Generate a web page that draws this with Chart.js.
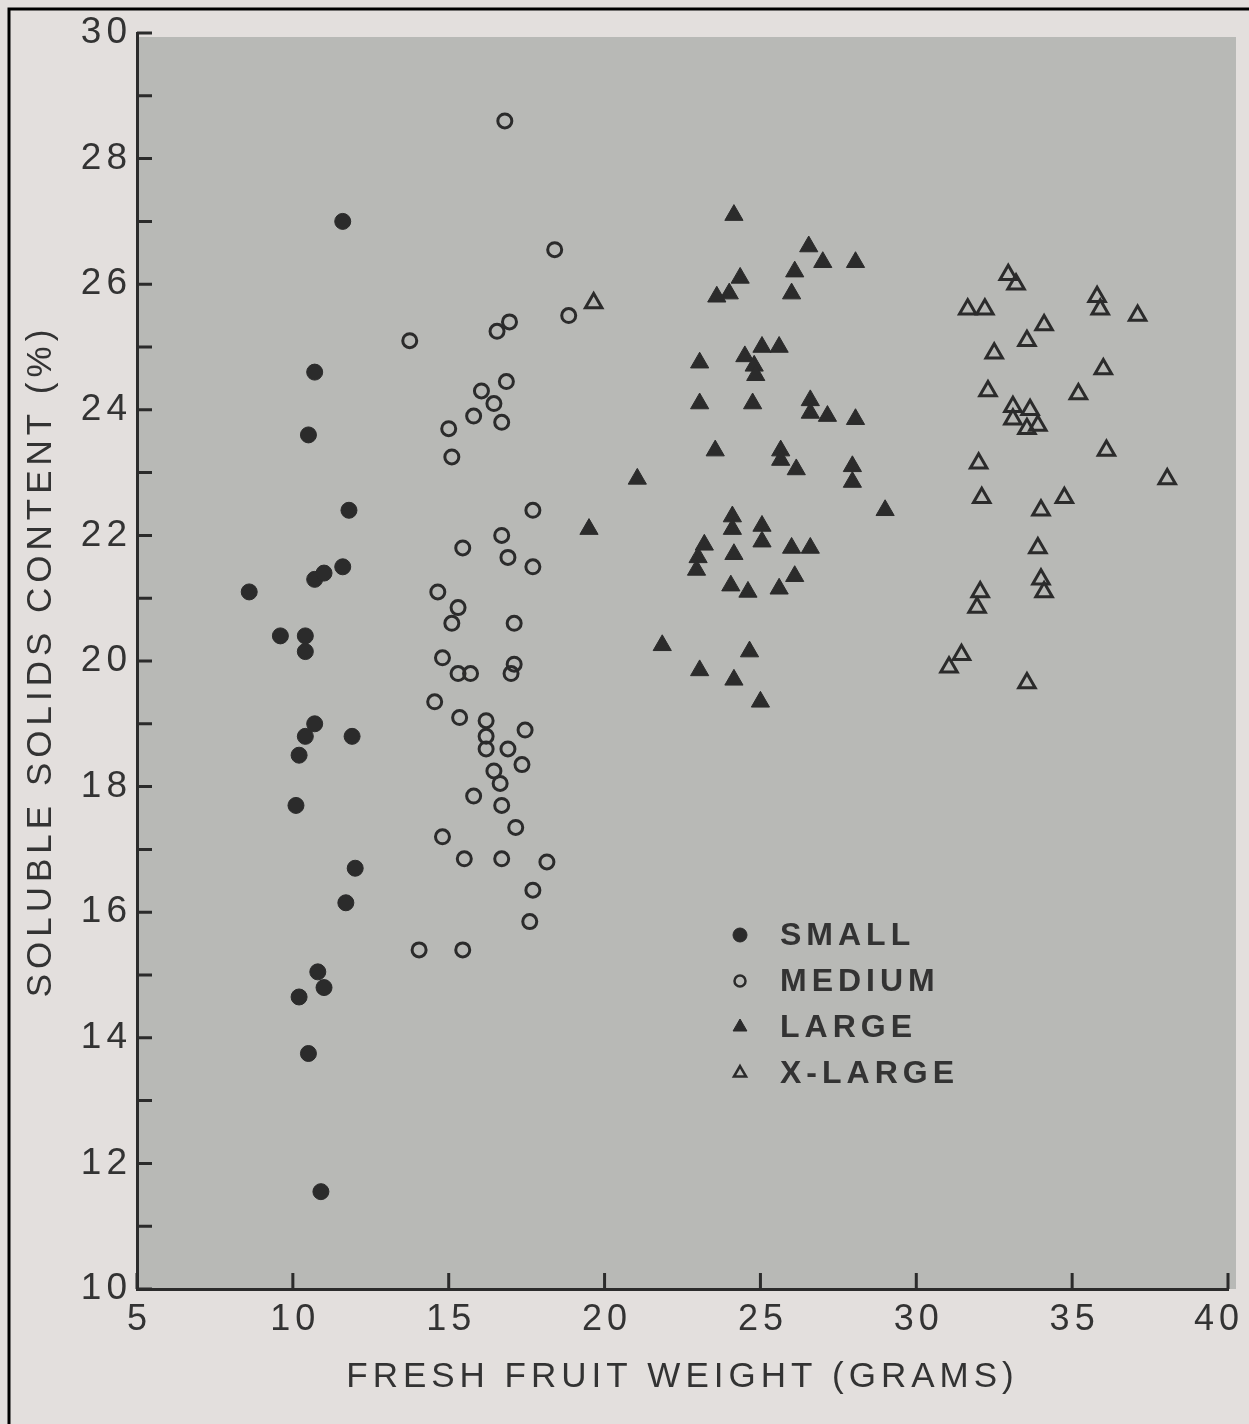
<!DOCTYPE html>
<html>
<head>
<meta charset="utf-8">
<script src="https://cdn.jsdelivr.net/npm/chart.js@4.4.1/dist/chart.umd.min.js"></script>
<style>
  html, body { margin: 0; padding: 0; background: #e3dfdd; }
  #chart { display: block; }
</style>
</head>
<body>
<canvas id="chart" width="1249" height="1424"></canvas>
<script>
// fruit size classes
const classNames = ["SMALL", "MEDIUM", "LARGE", "X-LARGE"];

// SMALL (filled circles)
const smallX = [11.6, 10.7, 10.5, 11.8, 10.7, 11.0, 11.6, 8.6, 9.6, 10.4, 10.4, 10.7, 10.4, 10.2, 11.9, 10.1, 12.0, 11.7, 10.8, 11.0, 10.2, 10.5, 10.9];
const smallY = [27.0, 24.6, 23.6, 22.4, 21.3, 21.4, 21.5, 21.1, 20.4, 20.4, 20.15, 19.0, 18.8, 18.5, 18.8, 17.7, 16.7, 16.15, 15.05, 14.8, 14.65, 13.75, 11.55];

// MEDIUM (open circles)
const mediumX = [16.8, 18.4, 18.85, 16.55, 16.95, 13.75, 16.85, 16.05, 16.45, 15.8, 16.7, 15.0, 15.1, 17.7, 16.7, 15.45, 16.9, 17.7,
  14.65, 15.3, 15.1, 17.1, 14.8, 15.3, 15.7, 17.1, 17.0, 14.55, 15.35, 16.2, 16.2, 16.2, 17.45, 16.9, 17.35, 16.45, 16.65, 15.8, 16.7, 17.15, 14.8, 15.5, 16.7, 18.15, 17.7, 17.6, 14.05, 15.45];
const mediumY = [28.6, 26.55, 25.5, 25.25, 25.4, 25.1, 24.45, 24.3, 24.1, 23.9, 23.8, 23.7, 23.25, 22.4, 22.0, 21.8, 21.65, 21.5,
  21.1, 20.85, 20.6, 20.6, 20.05, 19.8, 19.8, 19.95, 19.8, 19.35, 19.1, 19.05, 18.8, 18.6, 18.9, 18.6, 18.35, 18.25, 18.05, 17.85, 17.7, 17.35, 17.2, 16.85, 16.85, 16.8, 16.35, 15.85, 15.4, 15.4];

// LARGE (filled triangles)
const largeX = [24.15, 26.55, 27.0, 28.05, 26.1, 24.35, 24.0, 23.6, 26.0, 23.05, 24.5, 25.05, 25.6, 24.8, 24.85, 23.05, 24.75, 26.6, 26.6, 27.15, 28.05, 23.55, 25.65, 25.65, 26.15, 27.95, 27.95, 21.05, 29.0,
  24.1, 24.1, 25.05, 25.05, 23.2, 23.0, 22.95, 24.15, 26.0, 26.6, 26.1, 24.05, 24.6, 25.6, 21.85, 24.65, 23.05, 24.15, 25.0, 19.5];
const largeY = [27.1, 26.6, 26.35, 26.35, 26.2, 26.1, 25.85, 25.8, 25.85, 24.75, 24.85, 25.0, 25.0, 24.7, 24.55, 24.1, 24.1, 24.15, 23.95, 23.9, 23.85, 23.35, 23.35, 23.2, 23.05, 23.1, 22.85, 22.9, 22.4,
  22.3, 22.1, 22.15, 21.9, 21.85, 21.65, 21.45, 21.7, 21.8, 21.8, 21.35, 21.2, 21.1, 21.15, 20.25, 20.15, 19.85, 19.7, 19.35, 22.1];

// X-LARGE (open triangles)
const xlargeX = [32.95, 33.2, 31.65, 32.2, 35.8, 35.9, 37.1, 34.1, 33.55, 32.5, 36.0, 32.3, 35.2, 33.1, 33.1, 33.65, 33.55, 33.9, 36.1, 32.0, 38.05, 32.1, 34.75, 34.0, 33.9, 34.0, 34.1, 32.05, 31.95, 31.45, 31.05, 33.55, 19.65];
const xlargeY = [26.15, 26.0, 25.6, 25.6, 25.8, 25.6, 25.5, 25.35, 25.1, 24.9, 24.65, 24.3, 24.25, 24.05, 23.85, 24.0, 23.7, 23.75, 23.35, 23.15, 22.9, 22.6, 22.6, 22.4, 21.8, 21.3, 21.1, 21.1, 20.85, 20.1, 19.9, 19.65, 25.7];

// axis ticks
const xTicks = [5, 10, 15, 20, 25, 30, 35, 40];
const yTicks = [10, 12, 14, 16, 18, 20, 22, 24, 26, 28, 30];

const ink = "#2b2b2b";
const textInk = "#333333";
const paper = "#e3dfdd";
const plotGray = "#b8b9b6";
const fontFamily = "'Liberation Sans', Arial, sans-serif";

const toPoints = (xs, ys) => xs.map((x, i) => ({ x: x, y: ys[i] }));

const datasets = [
  { label: classNames[0], data: toPoints(smallX, smallY), pointStyle: "circle", pointRadius: 8,
    backgroundColor: ink, borderColor: ink, borderWidth: 1 },
  { label: classNames[1], data: toPoints(mediumX, mediumY), pointStyle: "circle", pointRadius: 7,
    backgroundColor: "rgba(0,0,0,0)", borderColor: ink, borderWidth: 3 },
  { label: classNames[2], data: toPoints(largeX, largeY), pointStyle: "triangle", pointRadius: 10.5,
    backgroundColor: ink, borderColor: ink, borderWidth: 1 },
  { label: classNames[3], data: toPoints(xlargeX, xlargeY), pointStyle: "triangle", pointRadius: 9.5,
    backgroundColor: "rgba(0,0,0,0)", borderColor: ink, borderWidth: 3 },
];

// paper, grey plot panel, photo frame
const background = {
  id: "background",
  beforeDraw(chart) {
    const { ctx, chartArea: a } = chart;
    ctx.save();
    ctx.fillStyle = paper;
    ctx.fillRect(0, 0, chart.width, chart.height);
    ctx.fillStyle = plotGray;
    ctx.fillRect(a.left, a.top + 4, a.right - a.left + 8, a.bottom - a.top - 4);
    ctx.strokeStyle = "#000";
    ctx.lineWidth = 3;
    ctx.beginPath();
    ctx.moveTo(9, chart.height);
    ctx.lineTo(9, 9);
    ctx.lineTo(chart.width, 9);
    ctx.stroke();
    ctx.restore();
    ctx.letterSpacing = "5px";
  },
};

// ticks pointing into the plot, x tick labels kept inside the page
const inwardTicks = {
  id: "inwardTicks",
  afterDraw(chart) {
    const { ctx, chartArea: a } = chart;
    const xs = chart.scales.x;
    const ys = chart.scales.y;
    ctx.save();
    ctx.strokeStyle = ink;
    ctx.lineWidth = 3;
    ctx.beginPath();
    for (let v = 10; v <= 30; v++) {
      const py = ys.getPixelForValue(v);
      ctx.moveTo(a.left, py);
      ctx.lineTo(a.left + 15, py);
    }
    xTicks.forEach((v) => {
      const px = xs.getPixelForValue(v);
      ctx.moveTo(px, a.bottom);
      ctx.lineTo(px, a.bottom - 16);
    });
    ctx.stroke();

    ctx.font = "36px " + fontFamily;
    ctx.fillStyle = textInk;
    ctx.textAlign = "center";
    ctx.textBaseline = "middle";
    xTicks.forEach((v) => {
      const label = String(v);
      const w = ctx.measureText(label).width;
      let px = xs.getPixelForValue(v) + 2.5;
      px = Math.min(px, chart.width - 10 - w / 2 + 5);
      ctx.fillText(label, px, a.bottom + 31);
    });
    ctx.restore();
  },
};

// legend inside the plot
const insideLegend = {
  id: "insideLegend",
  afterDatasetsDraw(chart) {
    const { ctx, chartArea: a } = chart;
    const mx = a.left + 603;
    const y0 = 935;
    const sizes = [7, 5.5, 8, 7];
    ctx.save();
    ctx.font = "bold 32px " + fontFamily;
    ctx.textBaseline = "middle";
    chart.data.datasets.forEach((ds, i) => {
      const y = y0 + i * 46;
      ctx.fillStyle = ds.backgroundColor;
      ctx.strokeStyle = ds.borderColor;
      ctx.lineWidth = ds.borderWidth === 3 ? 2.5 : 1;
      Chart.helpers.drawPoint(ctx, { pointStyle: ds.pointStyle, radius: sizes[i], rotation: 0, borderWidth: ctx.lineWidth }, mx, y);
      ctx.fillStyle = textInk;
      ctx.fillText(ds.label, mx + 40, y + 1);
    });
    ctx.restore();
  },
};

const canvas = document.getElementById("chart");

new Chart(canvas, {
  type: "scatter",
  data: { datasets: datasets },
  options: {
    responsive: false,
    animation: false,
    devicePixelRatio: 1,
    layout: { padding: { top: 33, right: 21, left: 0, bottom: 0 } },
    plugins: {
      legend: { display: false },
      tooltip: { enabled: false },
    },
    scales: {
      x: {
        type: "linear",
        min: 5,
        max: 40,
        afterBuildTicks: (s) => { s.ticks = xTicks.map((v) => ({ value: v })); },
        afterFit: (s) => { s.height = 135; s.paddingLeft = 0; s.paddingRight = 0; },
        grid: { drawOnChartArea: false, drawTicks: false },
        border: { display: true, color: ink, width: 3 },
        ticks: { display: false },
        title: {
          display: true,
          text: "FRESH FRUIT WEIGHT (GRAMS)",
          color: textInk,
          font: { family: fontFamily, size: 35 },
          padding: { top: 0, bottom: 26 },
        },
      },
      y: {
        type: "linear",
        min: 10,
        max: 30,
        afterBuildTicks: (s) => { s.ticks = yTicks.map((v) => ({ value: v })); },
        afterFit: (s) => { s.width = 137; s.paddingTop = 0; s.paddingBottom = 0; },
        grid: { drawOnChartArea: false, drawTicks: false },
        border: { display: true, color: ink, width: 3 },
        ticks: { padding: 5, color: textInk, font: { family: fontFamily, size: 37 } },
        title: {
          display: true,
          text: "SOLUBLE SOLIDS CONTENT (%)",
          color: textInk,
          font: { family: fontFamily, size: 35 },
          padding: { top: 20, bottom: 0 },
        },
      },
    },
  },
  plugins: [background, inwardTicks, insideLegend],
});
</script>
</body>
</html>
